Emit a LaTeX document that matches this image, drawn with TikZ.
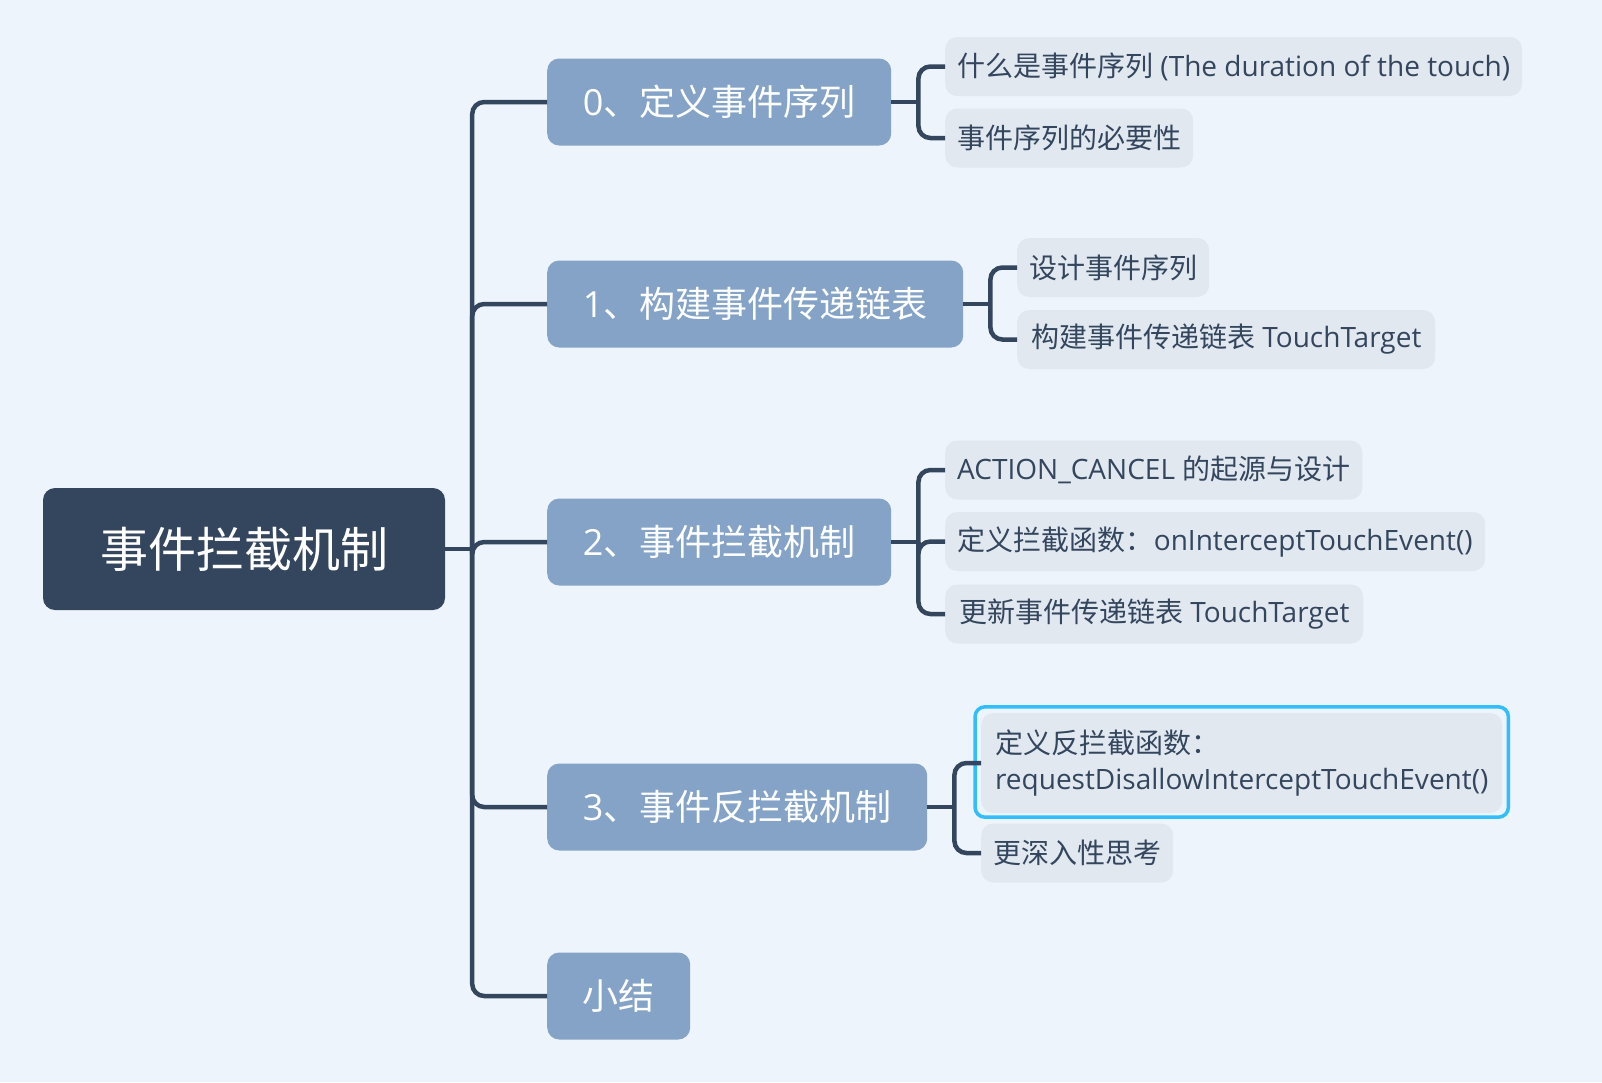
\documentclass[tikz,border=0pt]{standalone}
\usepackage{fontspec}
\setmainfont{Open Sans}
\newfontfamily\cjk{Noto Sans CJK SC}
\definecolor{bgblue}{HTML}{EDF4FB}
\definecolor{navy}{HTML}{34465D}
\definecolor{steel}{HTML}{84A3C6}
\definecolor{pale}{HTML}{E1E8F0}
\definecolor{sky}{HTML}{31BEFA}
\tikzset{
	root/.style = {fill = navy, text = white, rounded corners = 12pt, minimum height = 122pt, font = \fontsize{48}{58}\selectfont\cjk},
	topic/.style = {anchor = west, fill = steel, text = white, rounded corners = 12pt, minimum height = 87pt, inner xsep = 20pt, font = \fontsize{36}{44}\selectfont},
	subtopic/.style = {anchor = west, fill = pale, text = navy, rounded corners = 12pt, minimum height = 59pt, inner xsep = 12pt, font = \fontsize{28}{36}\selectfont},
	link/.style = {draw = navy, line width = 4.5pt, rounded corners = 12pt},
	highlight/.style = {draw = sky, line width = 3.5pt, rounded corners = 10pt}
}
\begin{document}
\begin{tikzpicture}[x = 1pt, y = -1pt]
	\useasboundingbox[fill = bgblue] (0,0) rectangle (1602,1082);
	\node[root, minimum width = 402pt] (root) at (244,549) {事件拦截机制};
	% main branches
	\node[topic, minimum width = 344pt] (n0) at (547,102) {0{\cjk 、定义事件序列}};
	\node[topic, minimum width = 416pt] (n1) at (547,304) {1{\cjk 、构建事件传递链表}};
	\node[topic, minimum width = 344pt] (n2) at (547,542) {2{\cjk 、事件拦截机制}};
	\node[topic, minimum width = 380pt] (n3) at (547,807) {3{\cjk 、事件反拦截机制}};
	\node[topic, minimum width = 143pt] (n4) at (547,996) {\cjk 小结};
	% sub branches
	\node[subtopic, minimum width = 576pt] (a1) at (945,66.5) {{\cjk 什么是事件序列} (The duration of the touch)};
	\node[subtopic, minimum width = 246pt] (a2) at (945,138) {\cjk 事件序列的必要性};
	\node[subtopic, minimum width = 191pt] (b1) at (1017,267.5) {\cjk 设计事件序列};
	\node[subtopic, minimum width = 418pt] (b2) at (1017,339.5) {{\cjk 构建事件传递链表} TouchTarget};
	\node[subtopic, minimum width = 416pt] (c1) at (945,470) {ACTION\_CANCEL {\cjk 的起源与设计}};
	\node[subtopic, minimum width = 540pt] (c2) at (945,541.5) {{\cjk 定义拦截函数：}onInterceptTouchEvent()};
	\node[subtopic, minimum width = 418pt] (c3) at (945,614) {{\cjk 更新事件传递链表} TouchTarget};
	\node[subtopic, minimum width = 521pt, minimum height = 100pt, align = left] (d1) at (981,763) {{\cjk 定义反拦截函数：}\\requestDisallowInterceptTouchEvent()};
	\node[subtopic, minimum width = 190pt] (d2) at (981,853) {\cjk 更深入性思考};
	\draw[highlight] ([shift = {(-6,-6)}]d1.north west) rectangle ([shift = {(6,4)}]d1.south east);
	% connectors
	\coordinate (hub) at ([xshift = 27pt]root.east);
	\draw[link] (root.east) -- (hub);
	\foreach \t in {n0,n1,n2,n3,n4}
		\draw[link] (hub) |- (\t.west);
	\foreach \t/\kids in {n0/{a1,a2}, n1/{b1,b2}, n2/{c1,c2,c3}, n3/{d1,d2}} {
		\coordinate (\t-fork) at ([xshift = 27pt]\t.east);
		\draw[link] (\t.east) -- (\t-fork);
		\foreach \k in \kids
			\draw[link] (\t-fork) |- (\k.west);
	}
\end{tikzpicture}
\end{document}
